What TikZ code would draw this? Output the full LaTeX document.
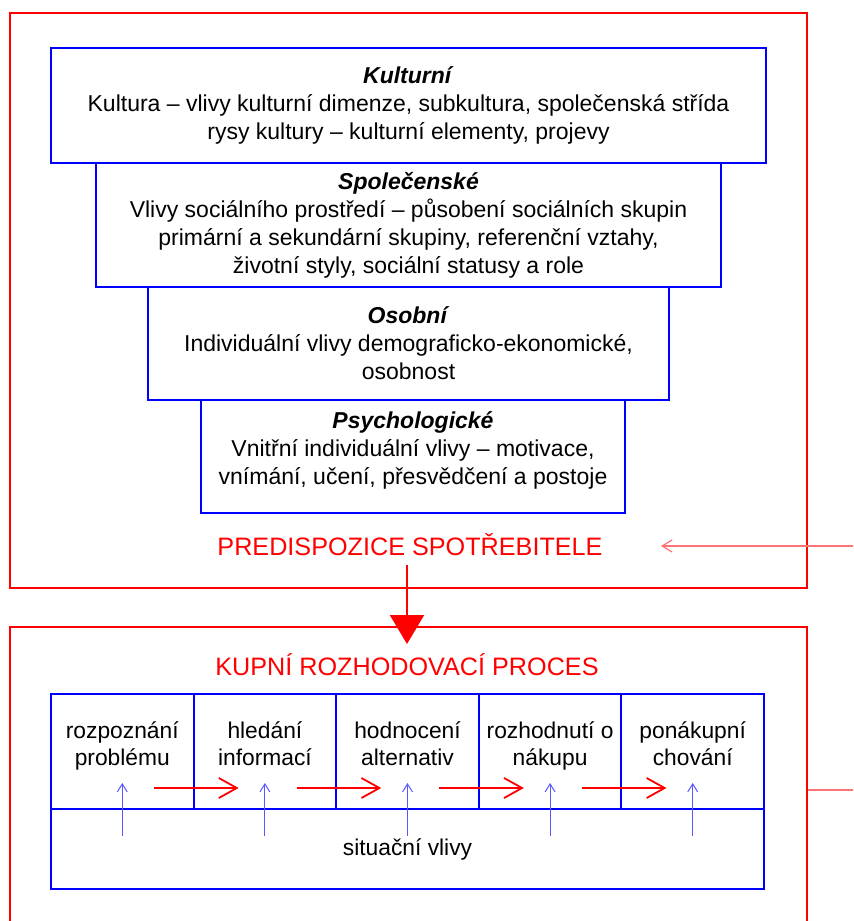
\documentclass[tikz,border=0pt]{standalone}
\usepackage{fontspec}
\setmainfont{Liberation Sans}
\usetikzlibrary{arrows.meta}

\begin{document}
\begin{tikzpicture}[x=0.5pt, y=-0.5pt,
        frame/.style={draw=red, line width=0.9pt, inner sep=0pt},
        layerbox/.style={draw=blue, line width=1pt, align=center, inner sep=0pt, font=\fontsize{11.5}{14}\selectfont},
        stagebox/.style={draw=blue, line width=1pt, align=center, inner sep=0pt, minimum width=71.3pt, minimum height=57.5pt, text depth=7.5pt, font=\fontsize{11.4}{13.5}\selectfont},
        heading/.style={text=red, anchor=base, inner sep=0pt, font=\fontsize{12.6}{14}\selectfont},
        bigflow/.style={-{Triangle[width=17pt, length=14.5pt]}, red, line width=1pt},
        stepflow/.style={-{Straight Barb[length=9pt, width=10pt]}, red, line width=0.9pt},
        sitflow/.style={-{Straight Barb[length=4pt, width=5pt]}, blue!65, line width=0.5pt},
        outflow/.style={red!55, line width=0.6pt}
    ]
        \useasboundingbox (0,0) rectangle (853,921);

        % outer red frames
        \node[frame, minimum width=398.5pt, minimum height=287.5pt] (predframe) at (408.5,300.5) {};
        \node[frame, minimum width=398.5pt, minimum height=166.5pt] (procframe) at (408.5,793.5) {};

        % layers of influences
        \node[layerbox, minimum width=357.5pt, minimum height=57.5pt] (kult) at (408.5,105.5) {\textbf{\textit{Kulturní}}\\Kultura – vlivy kulturní dimenze, subkultura, společenská střída\\rysy kultury – kulturní elementy, projevy};
        \node[layerbox, minimum width=312.5pt, minimum height=62pt] (spol) at (408.5,225) {\textbf{\textit{Společenské}}\\Vlivy sociálního prostředí – působení sociálních skupin\\primární a sekundární skupiny, referenční vztahy,\\životní styly, sociální statusy a role};
        \node[layerbox, minimum width=260.5pt, minimum height=56.5pt] (osob) at (408.5,343.5) {\textbf{\textit{Osobní}}\\Individuální vlivy demograficko-ekonomické,\\osobnost};
        \node[layerbox, minimum width=212pt, minimum height=56.5pt, text depth=8pt] (psych) at (413,456.5) {\textbf{\textit{Psychologické}}\\Vnitřní individuální vlivy – motivace,\\vnímání, učení, přesvědčení a postoje};

        \node[heading] (pred) at (410,555) {PREDISPOZICE SPOTŘEBITELE};
        \node[heading] (kupni) at (407,675) {KUPNÍ ROZHODOVACÍ PROCES};

        \draw[bigflow] ([yshift=-5pt]kupni.base |- pred.base) -- ([yshift=15.5pt]kupni.base);

        % decision stages
        \node[draw=blue, line width=1pt, minimum width=356.5pt, minimum height=40pt, inner sep=0pt, font=\fontsize{11.4}{13.5}\selectfont] (sit) at (407.5,849) {situační vlivy};
        \node[stagebox] (s1) at (122.3,751.5) {rozpoznání\\problému};
        \node[stagebox] (s2) at (264.9,751.5) {hledání\\informací};
        \node[stagebox] (s3) at (407.5,751.5) {hodnocení\\alternativ};
        \node[stagebox] (s4) at (550.1,751.5) {rozhodnutí o\\nákupu};
        \node[stagebox] (s5) at (692.7,751.5) {ponákupní\\chování};

        \draw[stepflow] ([xshift=15.9pt, yshift=11pt]s1.south) -- ([xshift=-13.1pt, yshift=11pt]s2.south);
        \draw[stepflow] ([xshift=15.9pt, yshift=11pt]s2.south) -- ([xshift=-13.1pt, yshift=11pt]s3.south);
        \draw[stepflow] ([xshift=15.9pt, yshift=11pt]s3.south) -- ([xshift=-13.1pt, yshift=11pt]s4.south);
        \draw[stepflow] ([xshift=15.9pt, yshift=11pt]s4.south) -- ([xshift=-13.1pt, yshift=11pt]s5.south);

        \draw[sitflow] ([yshift=-13pt]s1.south) -- ([yshift=13.5pt]s1.south);
        \draw[sitflow] ([yshift=-13pt]s2.south) -- ([yshift=13.5pt]s2.south);
        \draw[sitflow] ([yshift=-13pt]s3.south) -- ([yshift=13.5pt]s3.south);
        \draw[sitflow] ([yshift=-13pt]s4.south) -- ([yshift=13.5pt]s4.south);
        \draw[sitflow] ([yshift=-13pt]s5.south) -- ([yshift=13.5pt]s5.south);

        % links leaving the picture on the right
        \coordinate (extin) at (853,546);
        \coordinate (extout) at (853,790);
        \draw[outflow, -{Straight Barb[length=5pt, width=6pt]}] (extin) -- ([xshift=29pt]pred.east |- extin);
        \draw[outflow] (procframe.east |- extout) -- (extout);
    \end{tikzpicture}
\end{document}
